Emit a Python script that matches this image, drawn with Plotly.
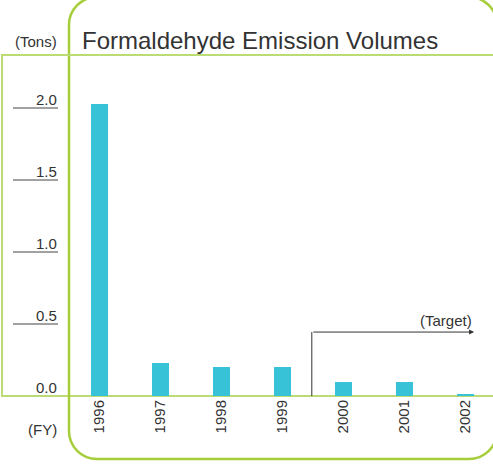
import plotly.graph_objects as go

years = ["1996", "1997", "1998", "1999", "2000", "2001", "2002"]
emissions = [2.03, 0.23, 0.20, 0.20, 0.10, 0.10, 0.015]
ytick_vals = [0.0, 0.5, 1.0, 1.5, 2.0]
ytick_text = ["0.0", "0.5", "1.0", "1.5", "2.0"]
title_text = "Formaldehyde Emission Volumes"
unit_text = "(Tons)"
fy_text = "(FY)"
target_text = "(Target)"

W, H = 493, 472
L_PX, R_PX, T_PX, B_PX = 69, 493, 55, 396
PW, PH = R_PX - L_PX, B_PX - T_PX


def px(x):
    return (x - L_PX) / PW


def py(y):
    return (B_PX - y) / PH


FONT = "Liberation Sans, Arial, sans-serif"
TXT = "#333333"
BAR = "#38C2D7"
GREEN_DARK = "#A6CE3A"
GREEN_LIGHT = "#BBDC74"

fig = go.Figure()
fig.add_trace(go.Bar(x=years, y=emissions, marker_color=BAR, width=0.28,
                     marker_line_width=0, hoverinfo="skip"))

shapes = []
# rounded frame
L, R, T, B, r = 69, 497, -3, 459, 28
k = 0.5523 * r
path = (
    f"M {px(L)},{py(B - r)} L {px(L)},{py(T + r)} "
    f"C {px(L)},{py(T + r - k)} {px(L + r - k)},{py(T)} {px(L + r)},{py(T)} "
    f"L {px(R - r)},{py(T)} "
    f"C {px(R - r + k)},{py(T)} {px(R)},{py(T + r - k)} {px(R)},{py(T + r)} "
    f"L {px(R)},{py(B - r)} "
    f"C {px(R)},{py(B - r + k)} {px(R - r + k)},{py(B)} {px(R - r)},{py(B)} "
    f"L {px(L + r)},{py(B)} "
    f"C {px(L + r - k)},{py(B)} {px(L)},{py(B - r + k)} {px(L)},{py(B - r)} Z"
)
shapes.append(dict(type="path", xref="paper", yref="paper", path=path,
                   line=dict(color=GREEN_DARK, width=2.5), layer="above"))
# light frame lines
shapes.append(dict(type="line", xref="paper", yref="paper", x0=px(2), x1=px(2),
                   y0=py(54), y1=py(397), line=dict(color=GREEN_LIGHT, width=2)))
shapes.append(dict(type="line", xref="paper", yref="paper", x0=px(1), x1=px(495),
                   y0=py(55), y1=py(55), line=dict(color=GREEN_LIGHT, width=2)))
shapes.append(dict(type="line", xref="paper", yref="paper", x0=px(1), x1=px(495),
                   y0=py(396), y1=py(396), line=dict(color=GREEN_LIGHT, width=2),
                   layer="below"))

annotations = []
for v, t in zip(ytick_vals, ytick_text):
    if v > 0:
        shapes.append(dict(type="line", xref="paper", yref="y", x0=px(13), x1=px(58),
                           y0=v, y1=v, line=dict(color="#444444", width=1)))
    annotations.append(dict(text=t, xref="paper", yref="y", x=px(59), y=v,
                            xanchor="right", yanchor="middle", yshift=9,
                            showarrow=False, font=dict(size=15, color=TXT, family=FONT)))

annotations.append(dict(text=unit_text, xref="paper", yref="paper", x=px(59), y=py(41),
                        xanchor="right", yanchor="middle", showarrow=False,
                        font=dict(size=15, color=TXT, family=FONT)))
annotations.append(dict(text=fy_text, xref="paper", yref="paper", x=px(59), y=py(430),
                        xanchor="right", yanchor="middle", showarrow=False,
                        font=dict(size=15, color=TXT, family=FONT)))
annotations.append(dict(text=title_text, xref="paper", yref="paper", x=px(80), y=py(40),
                        xanchor="left", yanchor="middle", showarrow=False,
                        font=dict(size=24, color=TXT, family=FONT)))

# target arrow
tx = 3.48
ty = 0.444
shapes.append(dict(type="line", xref="x", yref="y", x0=tx, x1=tx, y0=0, y1=ty,
                   line=dict(color="#333333", width=1)))
annotations.append(dict(x=6.14, y=ty, xref="x", yref="y", ax=tx, ay=ty,
                        axref="x", ayref="y", text="", showarrow=True,
                        arrowhead=2, arrowsize=1, arrowwidth=1, arrowcolor="#333333"))
annotations.append(dict(text=target_text, xref="x", yref="y", x=6.14, y=ty,
                        xanchor="right", yanchor="bottom", yshift=1, showarrow=False,
                        font=dict(size=15, color=TXT, family=FONT)))

fig.update_layout(
    width=W, height=H, autosize=False,
    margin=dict(l=L_PX, r=W - R_PX, t=T_PX, b=H - B_PX, pad=0),
    paper_bgcolor="white", plot_bgcolor="white",
    showlegend=False,
    xaxis=dict(type="category", range=[-0.5, 6.45], showgrid=False, zeroline=False,
               showline=False, ticks="", tickangle=-90,
               tickfont=dict(size=15, color=TXT, family=FONT)),
    yaxis=dict(range=[0, PH / 144.0], showgrid=False, zeroline=False, showline=False,
               showticklabels=False, ticks=""),
    shapes=shapes, annotations=annotations,
    bargap=0,
)

fig.write_html("out.html",
               config={"displayModeBar": False, "staticPlot": True},
               post_script="document.body.style.margin='0';document.body.style.overflow='hidden';")
